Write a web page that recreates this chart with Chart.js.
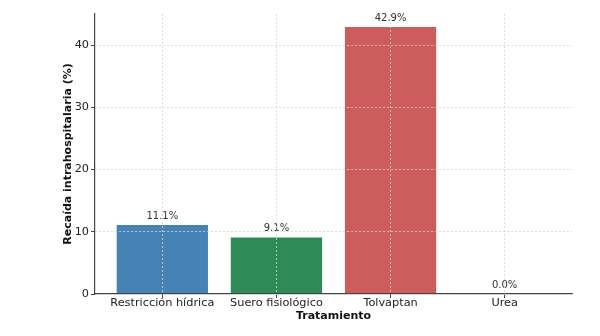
<!DOCTYPE html>
<html>
<head>
<meta charset="utf-8">
<script src="https://cdn.jsdelivr.net/npm/chart.js@4/dist/chart.umd.min.js"></script>
<style>
html,body{margin:0;padding:0;background:#fff;}
#wrap{width:600px;height:336px;position:relative;}
</style>
</head>
<body>
<div id="wrap"><canvas id="c" width="600" height="336"></canvas></div>
<script>
const categories = ["Restricción hídrica", "Suero fisiológico", "Tolvaptan", "Urea"];
const recaida = [11.1, 9.1, 42.9, 0.0];
const barColors = ["#4682B4", "#2E8B57", "#CD5C5C", "#DAA520"];
const yTicks = [0, 10, 20, 30, 40];

const FONT = "'DejaVu Sans', sans-serif";

const labelPlugin = {
  id: 'barLabels',
  afterDatasetsDraw(chart) {
    const ctx = chart.ctx;
    const meta = chart.getDatasetMeta(0);
    ctx.save();
    ctx.font = "10px " + FONT;
    ctx.fillStyle = "#333";
    ctx.textAlign = "center";
    ctx.textBaseline = "middle";
    meta.data.forEach((bar, i) => {
      ctx.fillText(recaida[i].toFixed(1) + "%", bar.x, bar.y - 9);
    });
    ctx.restore();
  }
};

new Chart(document.getElementById('c'), {
  type: 'bar',
  data: {
    datasets: [{
      data: recaida.map((v, i) => ({x: i, y: v})),
      backgroundColor: barColors,
      borderWidth: 0,
      barPercentage: 0.8,
      categoryPercentage: 1.0
    }]
  },
  options: {
    responsive: false,
    animation: false,
    layout: { padding: { left: 58, top: 14, right: 28, bottom: 9 } },
    plugins: { legend: { display: false }, tooltip: { enabled: false } },
    scales: {
      x: {
        type: 'linear',
        offset: false,
        min: -0.59,
        max: 3.59,
        afterBuildTicks(scale) { scale.ticks = categories.map((c, i) => ({value: i})); },
        afterFit(scale) { scale.height = 33; },
        ticks: {
          callback: (v) => categories[v] ?? '',
          color: "#222",
          font: { family: FONT, size: 11.3 },
          padding: -2,
          maxRotation: 0,
          autoSkip: false
        },
        grid: {
          offset: false,
          color: "#d6d6d6",
          lineWidth: 0.8,
          tickLength: 4,
          tickColor: "#444",
          tickWidth: 1,
          z: 1
        },
        border: { display: true, color: "#444", width: 1.2, dash: [2, 2], z: 1 },
        title: {
          display: true,
          text: "Tratamiento",
          color: "#111",
          font: { family: FONT, size: 11, weight: 'bold' },
          padding: { top: 2, bottom: 4 }
        }
      },
      y: {
        min: 0,
        max: 45,
        afterBuildTicks(scale) { scale.ticks = yTicks.map(v => ({value: v})); },
        afterFit(scale) { scale.width = 37; },
        ticks: {
          color: "#222",
          font: { family: FONT, size: 11.3 },
          padding: 2
        },
        grid: {
          color: "#d6d6d6",
          lineWidth: 0.8,
          tickLength: 4,
          tickColor: "#444",
          tickWidth: 1,
          z: 1
        },
        border: { display: true, color: "#444", width: 1.2, dash: [2, 2], z: 1 },
        title: {
          display: true,
          text: "Recaída intrahospitalaria (%)",
          color: "#111",
          font: { family: FONT, size: 11, weight: 'bold' },
          padding: { top: 4, bottom: 4 }
        }
      }
    }
  },
  plugins: [labelPlugin]
});
</script>
</body>
</html>
